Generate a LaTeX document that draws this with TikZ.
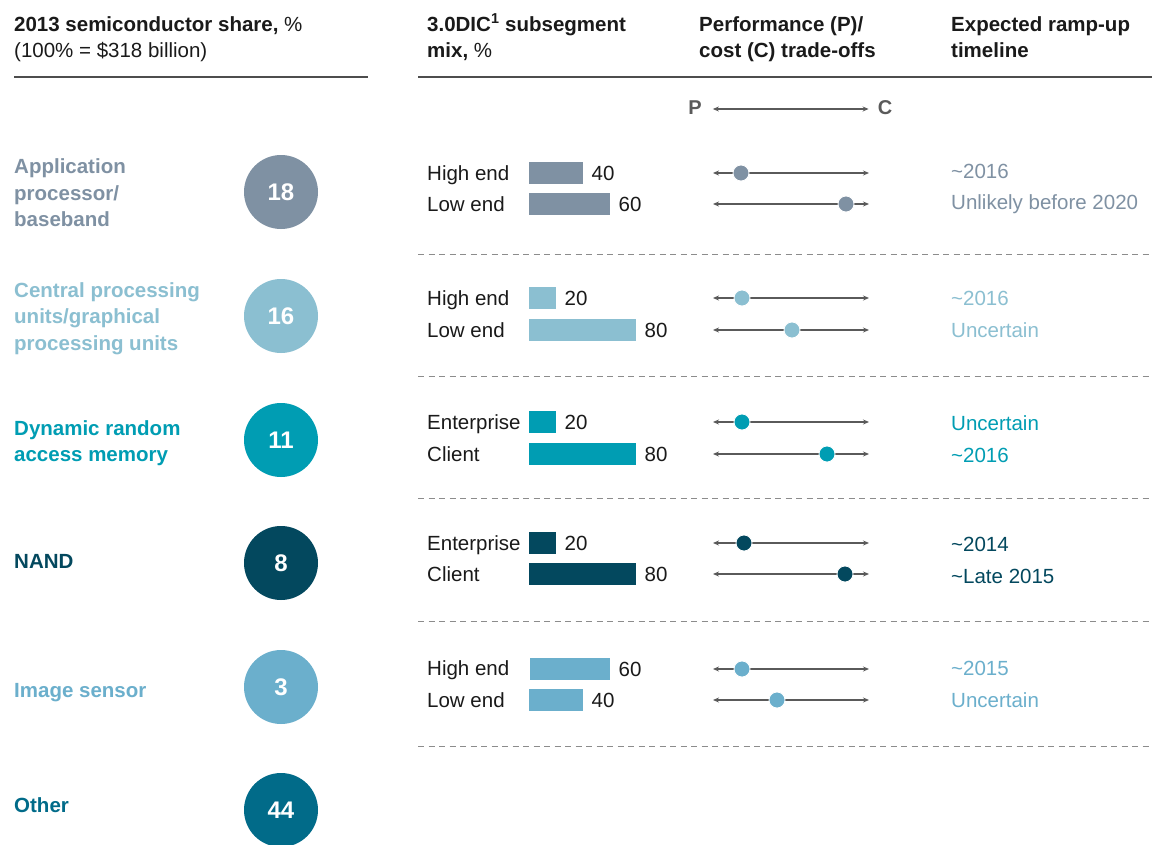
\documentclass[tikz,border=0pt]{standalone}
\usepackage{fontspec}
\setmainfont{Liberation Sans}
\usetikzlibrary{arrows.meta,positioning}
\definecolor{appc}{HTML}{7F91A3}
\definecolor{cpuc}{HTML}{8BBFD1}
\definecolor{dramc}{HTML}{009DB3}
\definecolor{nandc}{HTML}{03485E}
\definecolor{imgc}{HTML}{6BAFCC}
\definecolor{otherc}{HTML}{016B89}
\definecolor{ink}{HTML}{1A1A1A}
\definecolor{rule}{HTML}{4D4D4D}
\definecolor{dashc}{HTML}{8C8C8C}
\definecolor{arrc}{HTML}{5A5A5A}
\tikzset{
  txt/.style={anchor=west, inner sep=0pt, text height=14.6pt, text depth=0pt, text=ink, font=\fontsize{20.5}{24}\selectfont},
  cat/.style={txt, font=\fontsize{20.5}{24}\selectfont\bfseries},
  hdr/.style={txt, font=\fontsize{20.5}{24}\selectfont\bfseries},
  hdrn/.style={txt, font=\fontsize{20.5}{24}\selectfont},
  bubble/.style={circle, minimum size=74pt, inner sep=0pt, text=white, font=\fontsize{24}{28}\selectfont\bfseries},
  barbox/.style={anchor=west, inner sep=0pt, minimum height=21.5pt, draw=none},
  val/.style={txt, xshift=8pt},
  pcline/.style={draw=arrc, line width=1.1pt, {Stealth[length=6pt,width=5pt]}-{Stealth[length=6pt,width=5pt]}},
  dot/.style={circle, minimum size=16pt, inner sep=0pt, draw=white, line width=0.8pt},
  sep/.style={draw=dashc, line width=1pt, dash pattern=on 6pt off 4.5pt},
  hrule/.style={draw=rule, line width=1.1pt},
  pc/.style={inner sep=0pt, text=arrc, font=\fontsize{20}{24}\selectfont\bfseries}
}
\begin{document}
\begin{tikzpicture}[x=1pt,y=-1pt]
\fill[white] (0,0) rectangle (1160,844);
\useasboundingbox (0,0) rectangle (1160,844);

% headers
\node[hdr] (h1a) at (14,24) {2013 semiconductor share,\mdseries\ \%};
\node[hdrn] (h1b) at (14,50) {(100\% = \$318 billion)};
\node[hdr] (h2a) at (427,24) {3.0DIC\textsuperscript{1} subsegment};
\node[hdr] (h2b) at (427,50) {mix,\mdseries\ \%};
\node[hdr] (h3a) at (699,24) {Performance (P)/};
\node[hdr] (h3b) at (699,50) {cost (C) trade-offs};
\node[hdr] (h4a) at (951,24) {Expected ramp-up};
\node[hdr] (h4b) at (951,50) {timeline};
\coordinate (r1l) at (14,77); \coordinate (r1r) at (368,77);
\coordinate (r2l) at (418,77); \coordinate (r2r) at (1152,77);
\draw[hrule] (r1l) -- (r1r);
\draw[hrule] (r2l) -- (r2r);

% P / C scale
\node[pc] (P) at (695,108) {P};
\node[pc] (C) at (885,108) {C};
\draw[pcline, shorten <=11pt, shorten >=9pt] ([yshift=-1pt]P.east) -- ([yshift=-1pt]C.west);

% dashed separators
\foreach \y [count=\i] in {254,376,498,621,746}{
  \coordinate (s\i l) at (418,\y); \coordinate (s\i r) at (1152,\y);
  \draw[sep] (s\i l) -- (s\i r);
}

% categories and bubbles
\node[cat, text=appc] (c1a) at (14,166) {Application};
\node[cat, text=appc] (c1b) at (14,193) {processor/};
\node[cat, text=appc] (c1c) at (14,219) {baseband};
\node[bubble, fill=appc] (b1) at (281,192) {18};

\node[cat, text=cpuc] (c2a) at (14,290) {Central processing};
\node[cat, text=cpuc] (c2b) at (14,316) {units/graphical};
\node[cat, text=cpuc] (c2c) at (14,343) {processing units};
\node[bubble, fill=cpuc] (b2) at (281,316) {16};

\node[cat, text=dramc] (c3a) at (14,428) {Dynamic random};
\node[cat, text=dramc] (c3b) at (14,454) {access memory};
\node[bubble, fill=dramc] (b3) at (281,440) {11};

\node[cat, text=nandc] (c4a) at (14,561) {NAND};
\node[bubble, fill=nandc] (b4) at (281,563) {8};

\node[cat, text=imgc] (c5a) at (14,690) {Image sensor};
\node[bubble, fill=imgc] (b5) at (281,687) {3};

\node[cat, text=otherc] (c6a) at (14,805) {Other};
\node[bubble, fill=otherc] (b6) at (281,810) {44};

% row 1
\node[txt] (l1a) at (427,173) {High end};
\node[barbox, fill=appc, minimum width=54pt] (g1a) at (529,173) {};
\node[val, right=0pt of g1a] (v1a) {40};
\node[txt] (l1b) at (427,204) {Low end};
\node[barbox, fill=appc, minimum width=81pt] (g1b) at (529,204) {};
\node[val, right=0pt of g1b] (v1b) {60};
\coordinate (p1al) at (713,173); \coordinate (p1ar) at (869,173);
\coordinate (p1bl) at (713,204); \coordinate (p1br) at (869,204);
\draw[pcline] (p1al) -- (p1ar);
\draw[pcline] (p1bl) -- (p1br);
\node[dot, fill=appc] (d1a) at (741,173) {};
\node[dot, fill=appc] (d1b) at (846,204) {};
\node[txt, text=appc] (t1a) at (951,171) {\textasciitilde 2016};
\node[txt, text=appc] (t1b) at (951,202) {Unlikely before 2020};

% row 2
\node[txt] (l2a) at (427,298) {High end};
\node[barbox, fill=cpuc, minimum width=27pt] (g2a) at (529,298) {};
\node[val, right=0pt of g2a] (v2a) {20};
\node[txt] (l2b) at (427,330) {Low end};
\node[barbox, fill=cpuc, minimum width=107pt] (g2b) at (529,330) {};
\node[val, right=0pt of g2b] (v2b) {80};
\coordinate (p2al) at (713,298); \coordinate (p2ar) at (869,298);
\coordinate (p2bl) at (713,330); \coordinate (p2br) at (869,330);
\draw[pcline] (p2al) -- (p2ar);
\draw[pcline] (p2bl) -- (p2br);
\node[dot, fill=cpuc] (d2a) at (742,298) {};
\node[dot, fill=cpuc] (d2b) at (792,330) {};
\node[txt, text=cpuc] (t2a) at (951,298) {\textasciitilde 2016};
\node[txt, text=cpuc] (t2b) at (951,330) {Uncertain};

% row 3
\node[txt] (l3a) at (427,422) {Enterprise};
\node[barbox, fill=dramc, minimum width=27pt] (g3a) at (529,422) {};
\node[val, right=0pt of g3a] (v3a) {20};
\node[txt] (l3b) at (427,454) {Client};
\node[barbox, fill=dramc, minimum width=107pt] (g3b) at (529,454) {};
\node[val, right=0pt of g3b] (v3b) {80};
\coordinate (p3al) at (713,422); \coordinate (p3ar) at (869,422);
\coordinate (p3bl) at (713,454); \coordinate (p3br) at (869,454);
\draw[pcline] (p3al) -- (p3ar);
\draw[pcline] (p3bl) -- (p3br);
\node[dot, fill=dramc] (d3a) at (742,422) {};
\node[dot, fill=dramc] (d3b) at (827,454) {};
\node[txt, text=dramc] (t3a) at (951,423) {Uncertain};
\node[txt, text=dramc] (t3b) at (951,455) {\textasciitilde 2016};

% row 4
\node[txt] (l4a) at (427,543) {Enterprise};
\node[barbox, fill=nandc, minimum width=27pt] (g4a) at (529,543) {};
\node[val, right=0pt of g4a] (v4a) {20};
\node[txt] (l4b) at (427,574) {Client};
\node[barbox, fill=nandc, minimum width=107pt] (g4b) at (529,574) {};
\node[val, right=0pt of g4b] (v4b) {80};
\coordinate (p4al) at (713,543); \coordinate (p4ar) at (869,543);
\coordinate (p4bl) at (713,574); \coordinate (p4br) at (869,574);
\draw[pcline] (p4al) -- (p4ar);
\draw[pcline] (p4bl) -- (p4br);
\node[dot, fill=nandc] (d4a) at (744,543) {};
\node[dot, fill=nandc] (d4b) at (845,574) {};
\node[txt, text=nandc] (t4a) at (951,544) {\textasciitilde 2014};
\node[txt, text=nandc] (t4b) at (951,576) {\textasciitilde Late 2015};

% row 5
\node[txt] (l5a) at (427,668) {High end};
\node[barbox, fill=imgc, minimum width=80pt] (g5a) at (530,669) {};
\node[val, right=0pt of g5a] (v5a) {60};
\node[txt] (l5b) at (427,700) {Low end};
\node[barbox, fill=imgc, minimum width=54pt] (g5b) at (529,700) {};
\node[val, right=0pt of g5b] (v5b) {40};
\coordinate (p5al) at (713,669); \coordinate (p5ar) at (869,669);
\coordinate (p5bl) at (713,700); \coordinate (p5br) at (869,700);
\draw[pcline] (p5al) -- (p5ar);
\draw[pcline] (p5bl) -- (p5br);
\node[dot, fill=imgc] (d5a) at (742,669) {};
\node[dot, fill=imgc] (d5b) at (777,700) {};
\node[txt, text=imgc] (t5a) at (951,668) {\textasciitilde 2015};
\node[txt, text=imgc] (t5b) at (951,700) {Uncertain};
\end{tikzpicture}
\end{document}
